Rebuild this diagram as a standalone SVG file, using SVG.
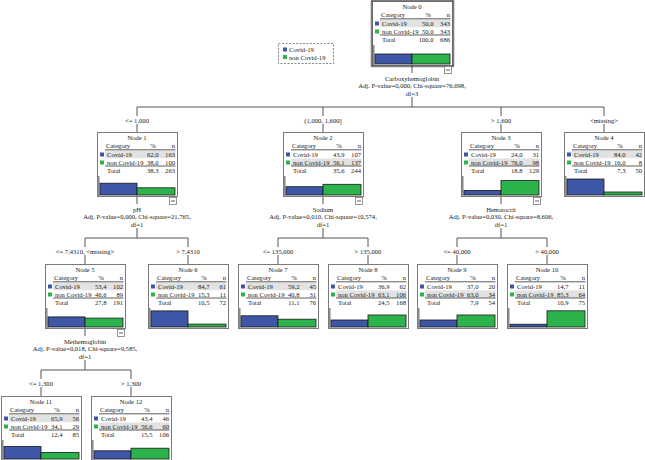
<svg xmlns="http://www.w3.org/2000/svg" width="645" height="460" viewBox="0 0 645 460">
<style>
text{font-family:"Liberation Serif","Times New Roman",serif;font-size:6.6px;fill:#1a1a1a}
.m{text-anchor:middle}.e{text-anchor:end}
.box{fill:#fff;stroke:#7a7a7a;stroke-width:1}
.sh{fill:#e2e2e2}
.ul{stroke:#333;stroke-width:0.8}
.b{fill:#3d56a6;stroke:#1a1a1a;stroke-width:0.8}
.g{fill:#2db34b;stroke:#1a1a1a;stroke-width:0.8}
.bs{fill:#3d56a6}.gs{fill:#2db34b}
.ax{stroke:#8a8a8a;stroke-width:1.5}
.mn{fill:#fff;stroke:#7a7a7a;stroke-width:0.8}
.mnl{stroke:#333;stroke-width:0.8}
.cn line{stroke:#555;stroke-width:1}
.bg{fill:#fff}
</style>
<defs>
<rect id="box" class="box" x="0.5" y="0.5" width="80" height="64"/>
<g id="content">
<text x="9" y="16">Category</text><text class="m" x="56" y="16">%</text><text class="e" x="78" y="16">n</text>
<line class="ul" x1="8" y1="17.8" x2="78.5" y2="17.8"/>
<line class="ul" x1="8" y1="34" x2="78.5" y2="34"/>
<rect class="bs" x="3" y="20.5" width="4" height="4"/>
<rect class="gs" x="3" y="28.5" width="4" height="4"/>
<text x="10" y="25">Covid-19</text>
<text x="10" y="33">non Covid-19</text>
<text x="10" y="41">Total</text>
<line class="ax" x1="1.8" y1="44" x2="1.8" y2="64"/>
</g>
<rect id="shc" class="sh" x="8" y="18.6" width="70.5" height="7.6"/>
<rect id="shn" class="sh" x="8" y="26.4" width="70.5" height="7.4"/>
<g id="minus"><rect class="mn" x="72.5" y="65.5" width="7" height="7"/><line class="mnl" x1="74" y1="69" x2="78" y2="69"/></g>
</defs>

<g id="legend">
<rect x="278.5" y="43.5" width="55" height="20" fill="#fff" stroke="#666" stroke-width="0.8" stroke-dasharray="2,1.5"/>
<rect class="bs" x="283" y="47.5" width="4" height="4"/><text x="289" y="52">Covid-19</text>
<rect class="gs" x="283" y="55" width="4" height="4"/><text x="289" y="59.5">non Covid-19</text>
</g>

<g id="connectors" class="cn">
<line x1="412" y1="65" x2="412" y2="107"/>
<line x1="137" y1="107" x2="604" y2="107"/>
<line x1="137" y1="107" x2="137" y2="132"/><line x1="323" y1="107" x2="323" y2="132"/>
<line x1="501" y1="107" x2="501" y2="132"/><line x1="604" y1="107" x2="604" y2="132"/>
<line x1="137" y1="196" x2="137" y2="238"/><line x1="85" y1="238" x2="188" y2="238"/>
<line x1="85" y1="238" x2="85" y2="264"/><line x1="188" y1="238" x2="188" y2="264"/>
<line x1="323" y1="196" x2="323" y2="238"/><line x1="278" y1="238" x2="368" y2="238"/>
<line x1="278" y1="238" x2="278" y2="264"/><line x1="368" y1="238" x2="368" y2="264"/>
<line x1="501" y1="196" x2="501" y2="238"/><line x1="457" y1="238" x2="547" y2="238"/>
<line x1="457" y1="238" x2="457" y2="264"/><line x1="547" y1="238" x2="547" y2="264"/>
<line x1="85" y1="328" x2="85" y2="370"/><line x1="41" y1="370" x2="131" y2="370"/>
<line x1="41" y1="370" x2="41" y2="396"/><line x1="131" y1="370" x2="131" y2="396"/>
</g>

<g id="labels">
<rect class="bg" x="397" y="73" width="30" height="24"/>
<text class="m" x="412" y="80.5">Carboxyhemoglobin</text>
<text class="m" x="412" y="88">Adj. P-value=0,000, Chi-square=76,698,</text>
<text class="m" x="412" y="95.5">df=3</text>
<rect class="bg" x="122" y="116" width="30" height="8"/><text class="m" x="137" y="122.5">&lt;= 1,000</text>
<rect class="bg" x="303" y="116" width="40" height="8"/><text class="m" x="323" y="122.5">(1,000, 1,600]</text>
<rect class="bg" x="488" y="116" width="26" height="8"/><text class="m" x="501" y="122.5">&gt; 1,600</text>
<rect class="bg" x="589" y="116" width="30" height="8"/><text class="m" x="604" y="122.5">&lt;missing&gt;</text>

<rect class="bg" x="122" y="204" width="30" height="24"/>
<text class="m" x="137" y="211.5">pH</text>
<text class="m" x="137" y="219">Adj. P-value=0,000, Chi-square=21,765,</text>
<text class="m" x="137" y="226.5">df=1</text>
<rect class="bg" x="308" y="204" width="30" height="24"/>
<text class="m" x="323" y="211.5">Sodium</text>
<text class="m" x="323" y="219">Adj. P-value=0,010, Chi-square=10,574,</text>
<text class="m" x="323" y="226.5">df=1</text>
<rect class="bg" x="486" y="204" width="30" height="24"/>
<text class="m" x="501" y="211.5">Hematocrit</text>
<text class="m" x="501" y="219">Adj. P-value=0,030, Chi-square=8,606,</text>
<text class="m" x="501" y="226.5">df=1</text>

<rect class="bg" x="55" y="247" width="60" height="8"/><text class="m" x="85" y="253.5">&lt;= 7,4310, &lt;missing&gt;</text>
<rect class="bg" x="173" y="247" width="30" height="8"/><text class="m" x="188" y="253.5">&gt; 7,4310</text>
<rect class="bg" x="263" y="247" width="30" height="8"/><text class="m" x="278" y="253.5">&lt;= 135,000</text>
<rect class="bg" x="353" y="247" width="30" height="8"/><text class="m" x="368" y="253.5">&gt; 135,000</text>
<rect class="bg" x="442" y="247" width="30" height="8"/><text class="m" x="457" y="253.5">&lt;= 40,000</text>
<rect class="bg" x="532" y="247" width="30" height="8"/><text class="m" x="547" y="253.5">&gt; 40,000</text>

<rect class="bg" x="70" y="336" width="30" height="24"/>
<text class="m" x="85" y="343.5">Methemoglobin</text>
<text class="m" x="85" y="351">Adj. P-value=0,018, Chi-square=9,585,</text>
<text class="m" x="85" y="358.5">df=1</text>
<rect class="bg" x="28" y="379" width="26" height="8"/><text class="m" x="41" y="385.5">&lt;= 1,300</text>
<rect class="bg" x="118" y="379" width="26" height="8"/><text class="m" x="131" y="385.5">&gt; 1,300</text>
</g>

<g id="node0" transform="translate(372,1)">
<use href="#box"/><use href="#shc"/><use href="#content"/>
<rect x="-0.5" y="-0.5" width="82" height="66" fill="none" stroke="#000" stroke-width="1.6" stroke-dasharray="1,1"/>
<text class="m" x="40" y="7.5">Node 0</text>
<text class="e" x="61.5" y="25">50,0</text><text class="e" x="78" y="25">343</text>
<text class="e" x="61.5" y="33">50,0</text><text class="e" x="78" y="33">343</text>
<text class="e" x="61.5" y="41">100,0</text><text class="e" x="78" y="41">686</text>
<rect class="b" x="3" y="53" width="37" height="10"/><rect class="g" x="40" y="53" width="38" height="10"/>
<use href="#minus"/>
</g>

<g id="node1" transform="translate(97,132)">
<use href="#box"/><use href="#shc"/><use href="#content"/>
<text class="m" x="40" y="7.5">Node 1</text>
<text class="e" x="61.5" y="25">62,0</text><text class="e" x="78" y="25">163</text>
<text class="e" x="61.5" y="33">38,0</text><text class="e" x="78" y="33">100</text>
<text class="e" x="61.5" y="41">38,3</text><text class="e" x="78" y="41">263</text>
<rect class="b" x="3" y="51.2" width="37" height="11.8"/><rect class="g" x="40" y="55.8" width="38" height="7.2"/>
<use href="#minus"/>
</g>

<g id="node2" transform="translate(283,132)">
<use href="#box"/><use href="#shn"/><use href="#content"/>
<text class="m" x="40" y="7.5">Node 2</text>
<text class="e" x="61.5" y="25">43,9</text><text class="e" x="78" y="25">107</text>
<text class="e" x="61.5" y="33">56,1</text><text class="e" x="78" y="33">137</text>
<text class="e" x="61.5" y="41">35,6</text><text class="e" x="78" y="41">244</text>
<rect class="b" x="3" y="54.7" width="37" height="8.3"/><rect class="g" x="40" y="52.3" width="38" height="10.7"/>
<use href="#minus"/>
</g>

<g id="node3" transform="translate(461,132)">
<use href="#box"/><use href="#shn"/><use href="#content"/>
<text class="m" x="40" y="7.5">Node 3</text>
<text class="e" x="61.5" y="25">24,0</text><text class="e" x="78" y="25">31</text>
<text class="e" x="61.5" y="33">76,0</text><text class="e" x="78" y="33">98</text>
<text class="e" x="61.5" y="41">18,8</text><text class="e" x="78" y="41">129</text>
<rect class="b" x="3" y="58.4" width="37" height="4.6"/><rect class="g" x="40" y="48.6" width="38" height="14.4"/>
<use href="#minus"/>
</g>

<g id="node4" transform="translate(564,132)">
<use href="#box"/><use href="#shc"/><use href="#content"/>
<text class="m" x="40" y="7.5">Node 4</text>
<text class="e" x="61.5" y="25">84,0</text><text class="e" x="78" y="25">42</text>
<text class="e" x="61.5" y="33">16,0</text><text class="e" x="78" y="33">8</text>
<text class="e" x="61.5" y="41">7,3</text><text class="e" x="78" y="41">50</text>
<rect class="b" x="3" y="47" width="37" height="16"/><rect class="g" x="40" y="60" width="38" height="3"/>
</g>

<g id="node5" transform="translate(45,264)">
<use href="#box"/><use href="#shc"/><use href="#content"/>
<text class="m" x="40" y="7.5">Node 5</text>
<text class="e" x="61.5" y="25">53,4</text><text class="e" x="78" y="25">102</text>
<text class="e" x="61.5" y="33">46,6</text><text class="e" x="78" y="33">89</text>
<text class="e" x="61.5" y="41">27,8</text><text class="e" x="78" y="41">191</text>
<rect class="b" x="3" y="52.9" width="37" height="10.1"/><rect class="g" x="40" y="54.1" width="38" height="8.9"/>
<use href="#minus"/>
</g>

<g id="node6" transform="translate(148,264)">
<use href="#box"/><use href="#shc"/><use href="#content"/>
<text class="m" x="40" y="7.5">Node 6</text>
<text class="e" x="61.5" y="25">84,7</text><text class="e" x="78" y="25">61</text>
<text class="e" x="61.5" y="33">15,3</text><text class="e" x="78" y="33">11</text>
<text class="e" x="61.5" y="41">10,5</text><text class="e" x="78" y="41">72</text>
<rect class="b" x="3" y="46.9" width="37" height="16.1"/><rect class="g" x="40" y="60.1" width="38" height="2.9"/>
</g>

<g id="node7" transform="translate(238,264)">
<use href="#box"/><use href="#shc"/><use href="#content"/>
<text class="m" x="40" y="7.5">Node 7</text>
<text class="e" x="61.5" y="25">59,2</text><text class="e" x="78" y="25">45</text>
<text class="e" x="61.5" y="33">40,8</text><text class="e" x="78" y="33">31</text>
<text class="e" x="61.5" y="41">11,1</text><text class="e" x="78" y="41">76</text>
<rect class="b" x="3" y="51.8" width="37" height="11.2"/><rect class="g" x="40" y="55.2" width="38" height="7.8"/>
</g>

<g id="node8" transform="translate(328,264)">
<use href="#box"/><use href="#shn"/><use href="#content"/>
<text class="m" x="40" y="7.5">Node 8</text>
<text class="e" x="61.5" y="25">36,9</text><text class="e" x="78" y="25">62</text>
<text class="e" x="61.5" y="33">63,1</text><text class="e" x="78" y="33">106</text>
<text class="e" x="61.5" y="41">24,5</text><text class="e" x="78" y="41">168</text>
<rect class="b" x="3" y="56" width="37" height="7"/><rect class="g" x="40" y="51" width="38" height="12"/>
</g>

<g id="node9" transform="translate(417,264)">
<use href="#box"/><use href="#shn"/><use href="#content"/>
<text class="m" x="40" y="7.5">Node 9</text>
<text class="e" x="61.5" y="25">37,0</text><text class="e" x="78" y="25">20</text>
<text class="e" x="61.5" y="33">63,0</text><text class="e" x="78" y="33">34</text>
<text class="e" x="61.5" y="41">7,9</text><text class="e" x="78" y="41">54</text>
<rect class="b" x="3" y="56" width="37" height="7"/><rect class="g" x="40" y="51" width="38" height="12"/>
</g>

<g id="node10" transform="translate(507,264)">
<use href="#box"/><use href="#shn"/><use href="#content"/>
<text class="m" x="40" y="7.5">Node 10</text>
<text class="e" x="61.5" y="25">14,7</text><text class="e" x="78" y="25">11</text>
<text class="e" x="61.5" y="33">85,3</text><text class="e" x="78" y="33">64</text>
<text class="e" x="61.5" y="41">10,9</text><text class="e" x="78" y="41">75</text>
<rect class="b" x="3" y="60.2" width="37" height="2.8"/><rect class="g" x="40" y="46.8" width="38" height="16.2"/>
</g>

<g id="node11" transform="translate(1,396)">
<use href="#box"/><use href="#shc"/><use href="#content"/>
<text class="m" x="40" y="7.5">Node 11</text>
<text class="e" x="61.5" y="25">65,9</text><text class="e" x="78" y="25">56</text>
<text class="e" x="61.5" y="33">34,1</text><text class="e" x="78" y="33">29</text>
<text class="e" x="61.5" y="41">12,4</text><text class="e" x="78" y="41">85</text>
<rect class="b" x="3" y="50.5" width="37" height="12.5"/><rect class="g" x="40" y="56.5" width="38" height="6.5"/>
</g>

<g id="node12" transform="translate(91,396)">
<use href="#box"/><use href="#shn"/><use href="#content"/>
<text class="m" x="40" y="7.5">Node 12</text>
<text class="e" x="61.5" y="25">43,4</text><text class="e" x="78" y="25">46</text>
<text class="e" x="61.5" y="33">56,6</text><text class="e" x="78" y="33">60</text>
<text class="e" x="61.5" y="41">15,5</text><text class="e" x="78" y="41">106</text>
<rect class="b" x="3" y="54.8" width="37" height="8.2"/><rect class="g" x="40" y="52.2" width="38" height="10.8"/>
</g>
</svg>
